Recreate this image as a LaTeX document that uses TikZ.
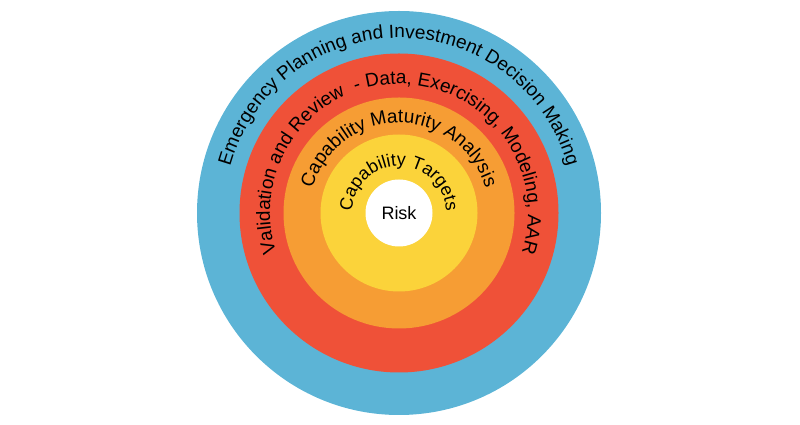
\documentclass[tikz,border=0pt]{standalone}
\usepackage{fontspec}
\setmainfont{Liberation Sans}
\usetikzlibrary{decorations.text}
\definecolor{ringblue}{RGB}{92,180,214}
\definecolor{ringred}{RGB}{239,81,56}
\definecolor{ringorange}{RGB}{246,157,52}
\definecolor{ringyellow}{RGB}{251,211,58}
\newcommand{\ringfont}{\fontsize{19}{23}\selectfont}
\newcommand{\innerfont}{\fontsize{18}{22}\selectfont}
\begin{document}
\begin{tikzpicture}[x=1pt,y=1pt,line join=round,line cap=round,
		ringtext/.style={decorate,decoration={text along path,text align=center,text={#1}}}]
			\useasboundingbox (0,0) rectangle (800,425);
			\coordinate (C) at (399,212);
			\foreach \r/\c in {202/ringblue,159.5/ringred,115.5/ringorange,78.5/ringyellow}
				\fill[\c] (C) circle (\r);
			\node[circle,fill=white,minimum size=67pt,inner sep=0pt,font=\innerfont] (risk) at (C) {Risk};
			\path[ringtext={|\ringfont|Emergency Planning and Investment Decision Making}] (C) ++(230:175) arc[start angle=230,end angle=-50,radius=175];
			\path[ringtext={|\ringfont|Validation and Review{\ } - Data, Exercising, Modeling, AAR}] (C) ++(230:129) arc[start angle=230,end angle=-50,radius=129];
			\path[ringtext={|\ringfont|Capability Maturity Analysis}] (C) ++(230:90) arc[start angle=230,end angle=-50,radius=90];
			\path[ringtext={|\innerfont|Capability Targets}] (C) ++(230:47) arc[start angle=230,end angle=-50,radius=47];
		\end{tikzpicture}
\end{document}
